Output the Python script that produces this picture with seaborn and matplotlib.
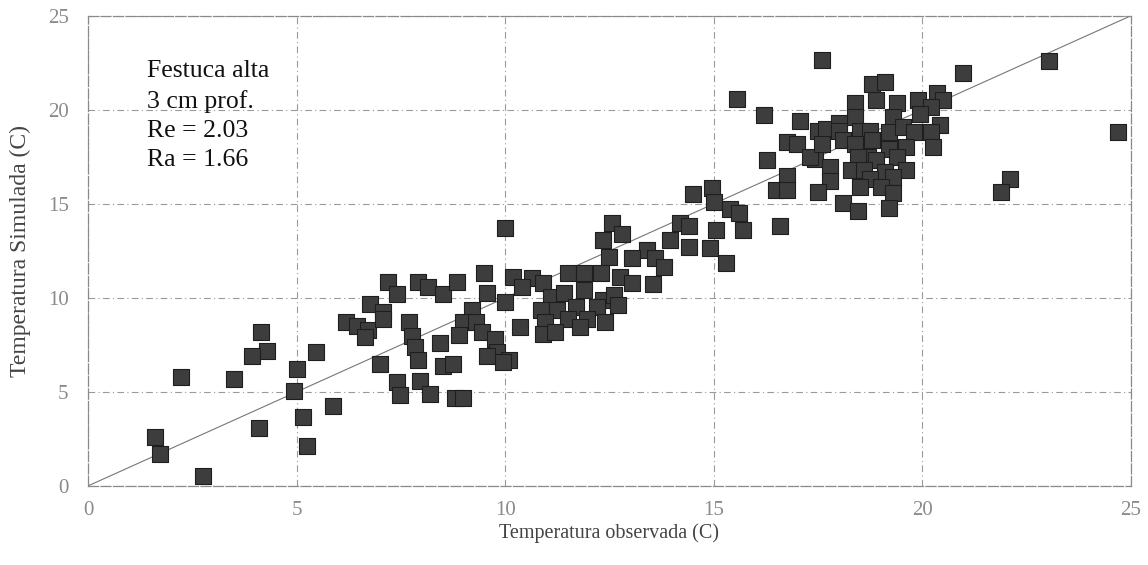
import matplotlib
matplotlib.use("Agg")
import matplotlib.pyplot as plt
import seaborn as sns
import numpy as np
import pandas as pd

obs = [
    4.15, 4.3, 3.93, 2.23, 3.5, 5.0, 4.94, 5.47, 6.19, 6.45, 5.88, 5.16, 4.1, 5.25, 1.61, 1.73, 2.76,
    14.5, 10.0, 12.57, 12.35, 12.8, 14.2, 14.4, 14.4, 13.96, 13.4, 13.05, 13.6, 13.8, 12.5, 11.5, 11.9,
    12.3, 12.75, 13.05, 13.55, 9.5, 10.2, 10.65, 10.9, 10.4, 7.2, 7.4, 7.9, 8.15, 8.5, 8.85, 9.57, 10.0,
    11.1, 11.4, 11.9, 12.35, 12.6, 10.85, 11.25, 11.7, 12.2, 12.7, 10.95, 11.5, 11.97, 12.4, 10.35, 10.9,
    11.2, 11.8, 6.76, 7.07, 6.7, 6.64, 7.07, 7.7, 7.77, 9.2, 8.99, 9.3, 8.9, 9.45, 9.76, 9.8, 9.57, 10.1,
    9.95, 8.44, 7.84, 7.9, 7.0, 8.5, 8.75, 7.4, 7.48, 7.96, 8.2, 8.8, 9.0,
    17.6, 23.05, 20.98, 24.7, 22.1, 21.9, 15.56, 16.2, 17.07, 16.27, 16.75, 16.5, 16.75, 14.96, 15.0,
    15.4, 15.6, 15.7, 15.05, 14.9, 15.3, 16.6, 16.75, 17.0, 17.43, 17.8, 17.8, 17.5, 17.5, 17.7, 18.0,
    18.4, 18.4, 18.8, 19.1, 18.9, 19.4, 19.3, 19.9, 20.35, 20.5, 20.2, 20.43, 19.95, 18.0, 18.5, 18.75,
    18.1, 18.4, 18.8, 19.2, 19.55, 19.8, 19.6, 20.2, 20.26, 19.2, 18.7, 18.45, 19.4, 18.9, 18.3, 18.6,
    19.1, 19.6, 19.3, 18.75, 18.5, 19.0, 19.3, 18.1, 18.45, 19.2, 17.3, 17.6,
]
sim = [
    8.2, 7.2, 6.9, 5.8, 5.7, 6.2, 5.05, 7.1, 8.7, 8.5, 4.25, 3.67, 3.1, 2.1, 2.6, 1.7, 0.5,
    15.5, 13.7, 14.0, 13.1, 13.4, 14.0, 13.8, 12.7, 13.1, 12.55, 12.1, 12.1, 11.65, 12.2, 11.3, 11.3,
    11.3, 11.1, 10.8, 10.75, 11.3, 11.1, 11.05, 10.8, 10.6, 10.85, 10.2, 10.85, 10.6, 10.2, 10.85, 10.25, 9.8,
    10.05, 10.25, 10.4, 9.9, 10.15, 9.35, 9.35, 9.5, 9.5, 9.6, 8.7, 8.85, 8.85, 8.7, 8.45, 8.1,
    8.2, 8.45, 9.7, 9.25, 8.3, 7.9, 8.85, 8.7, 7.95, 9.35, 8.7, 8.7, 8.0, 8.2, 7.8, 7.1, 6.9, 6.7,
    6.6, 7.6, 7.4, 6.7, 6.5, 6.4, 6.5, 5.5, 4.85, 5.6, 4.9, 4.7, 4.7,
    22.65, 22.6, 21.95, 18.8, 16.3, 15.65, 20.6, 19.75, 19.4, 17.35, 16.5, 15.75, 15.75, 15.85, 15.1,
    14.7, 14.5, 13.6, 13.6, 12.65, 11.85, 13.8, 18.3, 18.2, 17.4, 16.95, 16.2, 15.65, 18.9, 19.0, 19.3,
    20.35, 19.6, 21.4, 21.5, 20.5, 20.35, 19.6, 20.5, 20.9, 20.5, 20.15, 19.2, 19.8, 18.9, 18.9, 18.9,
    18.4, 18.2, 18.4, 18.8, 19.1, 18.8, 18.0, 18.8, 18.0, 17.9, 17.5, 17.5, 17.5, 17.35, 16.8, 16.8,
    16.7, 16.8, 16.45, 16.3, 15.9, 15.9, 15.6, 15.05, 14.6, 14.8, 17.5, 18.2,
]
ticks = [0, 5, 10, 15, 20, 25]
annotation = ["Festuca alta", "3 cm prof.", "Re = 2.03", "Ra = 1.66"]
xlabel = "Temperatura observada (C)"
ylabel = "Temperatura Simulada (C)"

df = pd.DataFrame({"obs": obs, "sim": sim})

sns.set_theme(style="white")
plt.rcParams["font.family"] = ["Liberation Serif", "DejaVu Serif"]

fig = plt.figure(figsize=(11.48, 5.65), dpi=100)
ax = fig.add_axes([0.0767, 0.14, 0.9083, 0.832])

ax.plot([0, 25], [0, 25], color="#777777", lw=0.8, zorder=1)
sns.scatterplot(data=df, x="obs", y="sim", marker="s", s=135, color="#3d3d3d",
                edgecolor="#1e1e1e", linewidth=0.8, ax=ax, zorder=3)

ax.set_xlim(0, 25)
ax.set_ylim(0, 25)
ax.set_xticks(ticks)
ax.set_yticks(ticks)
ax.set_xticklabels([str(t) for t in ticks])
ax.set_yticklabels([str(t) for t in ticks])
ax.grid(True, color="#9a9a9a", linestyle=(0, (6, 3, 1, 3)), linewidth=0.8)
ax.set_axisbelow(True)
for sp in ax.spines.values():
    sp.set_color("#8a8a8a")
    sp.set_linewidth(0.9)
    sp.set_linestyle((0, (8, 2)))
ax.tick_params(axis="x", length=0, labelsize=15, labelcolor="#8a8a8a", pad=11)
ax.tick_params(axis="y", length=0, labelsize=15, labelcolor="#8a8a8a", pad=14)
ax.set_xlabel(xlabel, fontsize=14.5, color="#444444", labelpad=2)
ax.set_ylabel(ylabel, fontsize=17, color="#444444", labelpad=12)

ax.text(0.057, 0.905, "\n".join(annotation), transform=ax.transAxes, fontsize=18.5,
        color="#111111", va="top", ha="left", linespacing=1.42)

fig.savefig("out.png", dpi=100)
